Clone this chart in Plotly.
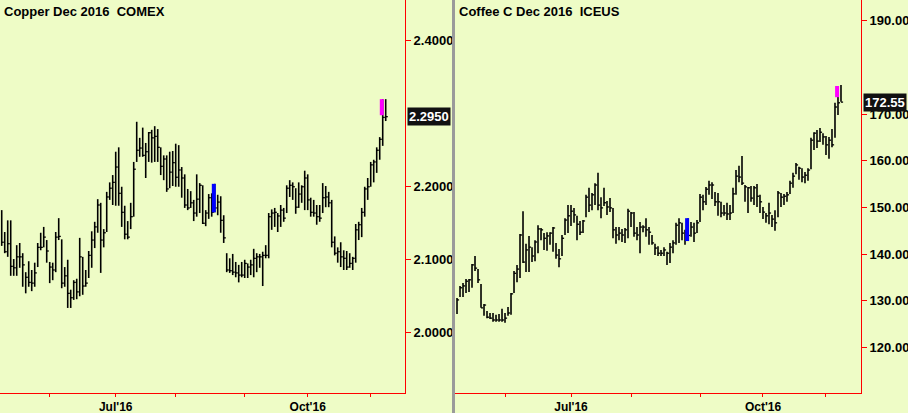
import pandas as pd
import plotly.graph_objects as go

# ---------------- data ----------------
dates = pd.bdate_range(start="2016-05-09", periods=129, freq="C",
                       holidays=["2016-05-30", "2016-07-04", "2016-09-05"])

cu_high = [2.167,2.137,2.153,2.153,2.100,2.119,2.122,2.108,2.082,2.097,2.085,2.095,2.122,2.136,2.144,2.126,2.096,2.095,2.137,2.156,
           2.127,2.089,2.099,2.058,2.071,2.073,2.129,2.103,2.085,2.111,2.138,2.151,2.182,2.177,2.141,2.192,2.205,2.215,2.247,2.253,
           2.199,2.173,2.152,2.177,2.233,2.288,2.266,2.280,2.259,2.274,2.277,2.282,2.278,2.253,2.242,2.242,2.247,2.248,2.258,2.256,
           2.226,2.216,2.196,2.193,2.181,2.216,2.204,2.201,2.167,2.189,2.190,2.203,2.188,2.186,2.160,2.108,2.101,2.107,2.096,2.092,
           2.096,2.099,2.094,2.099,2.114,2.108,2.107,2.110,2.119,2.163,2.168,2.170,2.163,2.174,2.170,2.201,2.208,2.205,2.197,2.205,
           2.201,2.221,2.216,2.184,2.181,2.174,2.174,2.204,2.200,2.192,2.181,2.131,2.116,2.123,2.112,2.111,2.108,2.103,2.148,2.151,
           2.170,2.199,2.211,2.233,2.236,2.253,2.267,2.319,2.319]
cu_low = [2.118,2.108,2.103,2.077,2.077,2.077,2.088,2.062,2.053,2.062,2.056,2.062,2.089,2.112,2.116,2.095,2.067,2.071,2.082,2.126,
          2.060,2.062,2.033,2.033,2.044,2.045,2.049,2.051,2.062,2.074,2.088,2.115,2.136,2.081,2.116,2.137,2.181,2.174,2.173,2.173,
          2.144,2.127,2.127,2.141,2.158,2.233,2.240,2.240,2.211,2.233,2.232,2.233,2.233,2.215,2.208,2.192,2.197,2.200,2.199,2.199,
          2.184,2.170,2.167,2.170,2.152,2.158,2.163,2.148,2.145,2.155,2.158,2.164,2.160,2.136,2.122,2.082,2.081,2.078,2.075,2.068,
          2.075,2.074,2.074,2.078,2.075,2.082,2.088,2.063,2.101,2.101,2.140,2.144,2.137,2.144,2.151,2.163,2.185,2.181,2.162,2.170,
          2.177,2.167,2.167,2.158,2.158,2.147,2.151,2.163,2.171,2.171,2.116,2.105,2.095,2.089,2.085,2.085,2.088,2.085,2.095,2.126,
          2.130,2.158,2.181,2.199,2.205,2.218,2.236,2.255,2.289]
cu_close = [2.123,2.110,2.121,2.090,2.088,2.103,2.103,2.092,2.075,2.068,2.067,2.081,2.116,2.116,2.130,2.111,2.089,2.085,2.130,2.131,
            2.067,2.077,2.053,2.047,2.068,2.055,2.103,2.063,2.067,2.105,2.126,2.144,2.174,2.126,2.136,2.185,2.197,2.205,2.226,2.190,
            2.164,2.134,2.130,2.158,2.223,2.249,2.252,2.242,2.247,2.273,2.266,2.268,2.253,2.227,2.237,2.196,2.219,2.232,2.212,2.222,
            2.211,2.174,2.170,2.177,2.163,2.182,2.201,2.149,2.163,2.184,2.164,2.170,2.178,2.153,2.129,2.085,2.084,2.082,2.081,2.078,
            2.078,2.094,2.089,2.092,2.101,2.103,2.103,2.105,2.105,2.158,2.163,2.164,2.159,2.167,2.156,2.197,2.201,2.199,2.171,2.189,
            2.199,2.211,2.181,2.164,2.163,2.158,2.156,2.184,2.185,2.177,2.123,2.108,2.110,2.103,2.101,2.089,2.094,2.101,2.140,2.147,
            2.164,2.196,2.199,2.229,2.233,2.249,2.264,2.294,2.295]

cf_high = [130.6,133.2,133.8,134.7,134.7,137.9,139.6,136.8,133.6,129.3,127.8,127.4,127.4,127.0,127.2,128.3,127.4,128.7,131.7,136.4,
           137.7,144.3,149.2,142.2,143.9,141.5,143.0,146.2,145.6,144.5,144.7,144.7,145.8,142.4,141.1,144.1,147.7,150.5,150.5,149.9,
           148.2,147.1,147.3,152.7,154.2,153.1,155.2,157.4,152.2,154.2,151.4,152.0,149.9,145.8,145.8,145.4,145.6,149.7,149.0,149.0,
           145.8,146.9,146.2,147.7,145.8,144.1,142.2,141.7,140.9,141.5,140.5,142.4,143.0,146.7,147.7,146.7,145.2,147.7,146.9,146.7,
           147.3,152.9,152.7,154.4,155.7,155.4,153.3,153.1,151.2,150.5,151.0,150.5,154.2,158.0,158.9,161.0,154.8,154.4,154.6,154.6,
           155.0,152.7,150.1,148.8,151.0,148.4,149.4,153.5,153.1,152.9,153.3,155.7,157.4,159.5,158.7,158.4,157.6,158.4,164.9,166.1,
           166.6,167.0,165.9,165.3,165.1,166.8,172.4,176.0,176.2]
cf_low = [127.2,130.8,130.8,131.7,131.9,132.8,136.4,133.8,128.5,126.8,126.3,126.1,125.5,125.5,125.5,125.5,125.3,126.8,127.0,131.7,
          134.0,134.9,138.1,136.2,136.2,138.3,138.5,140.2,143.0,140.9,140.7,142.0,140.5,139.0,137.2,139.6,144.1,144.5,146.0,146.7,
          143.0,144.1,144.5,147.9,149.0,149.4,150.5,149.4,147.7,150.3,148.4,149.0,143.4,142.2,143.0,142.6,142.4,143.4,145.8,143.7,
          143.0,140.2,144.7,143.7,142.0,142.0,139.8,139.6,139.6,139.6,137.7,138.1,140.2,142.0,142.4,143.0,142.0,142.8,143.7,142.6,
          144.5,146.9,149.4,150.5,152.7,151.8,150.3,148.2,147.9,148.2,147.3,147.3,148.8,152.7,155.4,154.8,151.2,148.8,151.2,150.5,
          150.1,148.8,147.5,146.7,146.4,145.8,145.0,147.9,150.1,150.5,151.2,152.9,154.2,157.1,155.9,155.4,155.2,155.7,158.2,162.3,
          162.7,164.0,163.4,161.2,160.4,162.9,164.9,169.8,172.6]
cf_close = [130.2,132.8,133.2,134.2,134.5,137.7,137.0,134.5,128.5,129.1,126.5,126.3,125.9,125.9,125.9,125.9,126.3,127.4,131.5,135.9,
            136.8,144.1,138.3,140.9,141.5,139.6,142.6,145.4,145.2,143.4,143.9,144.5,145.6,139.8,139.0,143.4,147.3,148.2,149.2,148.4,
            146.4,144.7,147.1,152.2,150.5,152.7,154.8,150.5,149.9,151.0,150.1,149.9,145.2,144.1,144.5,144.1,145.2,149.2,148.8,144.5,
            144.1,145.8,145.8,145.2,144.7,142.4,141.3,140.2,140.2,140.9,140.2,141.5,142.4,146.2,146.7,144.5,144.7,144.0,145.8,144.5,
            146.7,152.2,151.2,153.9,154.8,154.8,151.2,151.2,148.8,148.8,148.6,148.8,152.9,156.7,156.5,155.2,154.4,154.2,152.0,154.2,
            152.4,151.2,149.0,148.2,148.8,147.5,146.7,153.1,152.2,152.4,152.7,155.2,156.7,159.1,158.4,156.5,156.9,158.0,164.4,165.9,
            164.2,166.1,165.1,163.4,164.4,163.4,171.5,172.4,172.55]

# highlighted bars: (index, top, bottom)
cu_blue = (71, 2.203, 2.164)
cu_mag = (127, 2.319, 2.297)
cf_blue = (77, 147.7, 142.8)
cf_mag = (127, 176.0, 173.6)

cu_ticks = [2.0, 2.1, 2.2, 2.4]
cf_ticks = [120, 130, 140, 150, 160, 170, 190]
# ---------------------------------------

W, H = 908, 413
BG = "#EEFCC6"
RED = "#FF0000"
FONT = "Liberation Sans"
TF = dict(family=FONT, size=13, color="black", weight="bold")
XTF = dict(family=FONT, size=12, color="black", weight="bold")

idx = list(range(len(dates)))
month_pos, month_txt = [], []
prev = None
for i, d in enumerate(dates):
    if d.month != prev:
        if prev is not None:
            month_pos.append(i)
            month_txt.append(d.strftime("%b'%y") if d.month in (7, 10) else "")
        prev = d.month

fig = go.Figure()

def add_panel(high, low, close, blue, mag, xa, ya):
    vx, vy, cx, cy = [], [], [], []
    for i, (h, l, c) in enumerate(zip(high, low, close)):
        vx += [i, i, None]
        vy += [l, h, None]
        cx += [i, i + 0.7, None]
        cy += [c, c, None]
    fig.add_trace(go.Scatter(x=vx, y=vy, mode="lines", line=dict(color="black", width=1.6),
                             xaxis=xa, yaxis=ya, showlegend=False, hoverinfo="skip"))
    fig.add_trace(go.Scatter(x=cx, y=cy, mode="lines", line=dict(color="black", width=1.3),
                             xaxis=xa, yaxis=ya, showlegend=False, hoverinfo="skip"))
    for (i, t, b), col in ((blue, "#0000FF"), (mag, "#FF00FF")):
        fig.add_trace(go.Scatter(x=[i - 0.3, i - 0.3], y=[b, t], mode="lines",
                                 line=dict(color=col, width=4), xaxis=xa, yaxis=ya,
                                 showlegend=False, hoverinfo="skip"))

add_panel(cu_high, cu_low, cu_close, cu_blue, cu_mag, "x", "y")
add_panel(cf_high, cf_low, cf_close, cf_blue, cf_mag, "x2", "y2")

xcommon = dict(tickmode="array", tickvals=month_pos, ticktext=month_txt,
               showline=True, linecolor=RED, linewidth=1, ticks="outside",
               tickcolor=RED, ticklen=3, showgrid=False, zeroline=False,
               tickfont=XTF, automargin=False, fixedrange=True)
ycommon = dict(side="right", showline=True, linecolor=RED, linewidth=1,
               ticks="outside", tickcolor=RED, ticklen=5, showgrid=False,
               zeroline=False, tickfont=TF, automargin=False, fixedrange=True)

fig.update_layout(
    width=W, height=H, margin=dict(l=0, r=0, t=0, b=0, autoexpand=False),
    paper_bgcolor=BG, plot_bgcolor=BG,
    xaxis=dict(domain=[0, 405 / W], range=[-0.57, 134.43], anchor="y", **xcommon),
    xaxis2=dict(domain=[455 / W, 861 / W], range=[-0.67, 134.67], anchor="y2", **xcommon),
    yaxis=dict(domain=[20 / H, 1], range=[1.9165, 2.4548], anchor="x",
               tickvals=cu_ticks, tickformat=".4f", **ycommon),
    yaxis2=dict(domain=[20 / H, 1], range=[110.27, 194.41], anchor="x2",
                tickvals=cf_ticks, tickformat=".2f", **ycommon),
)

fig.add_shape(type="rect", xref="paper", yref="paper", x0=452 / W, x1=455 / W, y0=0, y1=1,
              fillcolor="#9A9A9A", line=dict(width=0), layer="above")

fig.add_annotation(xref="paper", yref="paper", x=2 / W, y=1 - 2 / H, xanchor="left", yanchor="top",
                   text="Copper Dec 2016  COMEX", showarrow=False, font=TF)
fig.add_annotation(xref="paper", yref="paper", x=457 / W, y=1 - 2 / H, xanchor="left", yanchor="top",
                   text="Coffee C Dec 2016  ICEUS", showarrow=False, font=TF)

fig.add_annotation(xref="paper", yref="y", x=407 / W, y=cu_close[-1], xanchor="left", yanchor="middle",
                   text="%.4f" % cu_close[-1], showarrow=False, bgcolor="#111111",
                   font=dict(family=FONT, size=13, color="white", weight="bold"), borderpad=1)
fig.add_annotation(xref="paper", yref="y2", x=863 / W, y=cf_close[-1], xanchor="left", yanchor="middle",
                   text="%.2f" % cf_close[-1], showarrow=False, bgcolor="#111111",
                   font=dict(family=FONT, size=13, color="white", weight="bold"), borderpad=1)

fig.write_html("out.html", config={"displayModeBar": False},
               post_script="document.body.style.margin='0';document.body.style.background='%s';" % BG)
